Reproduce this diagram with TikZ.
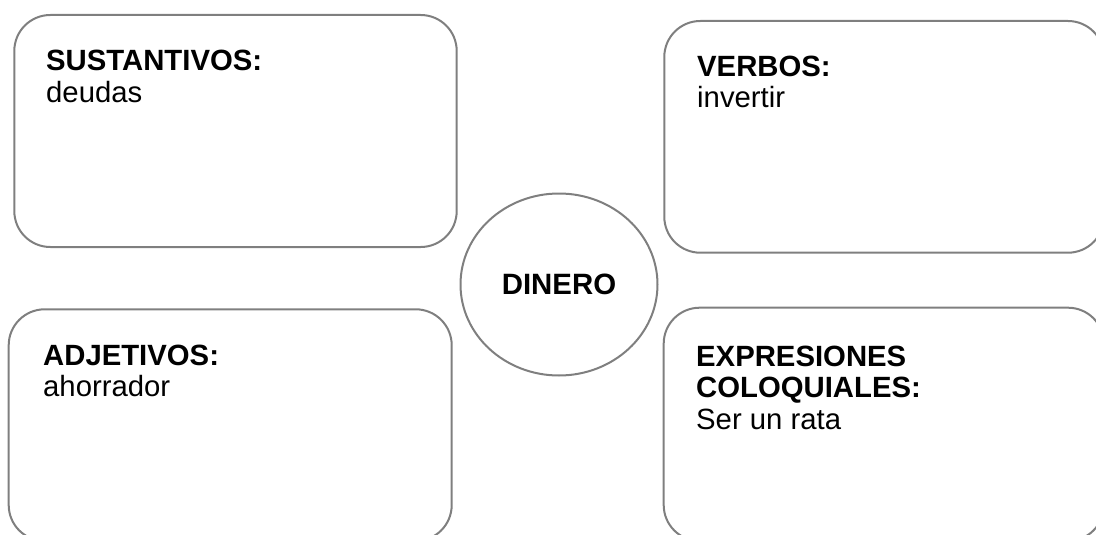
\documentclass[tikz,border=0pt]{standalone}
\usepackage{fontspec}
\setmainfont{Liberation Sans}
\usetikzlibrary{shapes.geometric}
\definecolor{edgegray}{HTML}{7F7F7F}
\tikzset{
  catbox/.style={draw=edgegray, line width=2pt, rectangle, rounded corners=36pt,
    inner sep=0pt, anchor=north west},
  hub/.style={draw=edgegray, line width=2pt, ellipse, inner sep=0pt,
    minimum width=197pt, minimum height=182pt,
    font=\fontsize{29.4}{32}\selectfont\bfseries},
  label/.style={anchor=north west, inner sep=0pt, align=left,
    font=\fontsize{29.3}{31.5}\selectfont}
}
\begin{document}
\begin{tikzpicture}[x=1pt, y=-1pt]
\useasboundingbox (0,0) rectangle (1096,535);
\clip (0,0) rectangle (1096,535);
% boxes
\node[catbox, minimum width=442.4pt, minimum height=232pt] (sus) at (13.3,14) {};
\node[catbox, minimum width=439.7pt, minimum height=231.7pt] (ver) at (663.3,20) {};
\node[catbox, minimum width=443pt, minimum height=231.7pt] (adj) at (7.7,308.3) {};
\node[catbox, minimum width=440.3pt, minimum height=233.3pt] (exp) at (662.7,306.7) {};
% centre
\node[hub] (din) at (559,284.5) {DINERO};
% texts
\node[label] (sust) at (46,50.2) {\textbf{SUSTANTIVOS:}\\deudas};
\node[label] (verbt) at (697,55.5) {\textbf{VERBOS:}\\invertir};
\node[label] (adjt) at (43,344.5) {\textbf{ADJETIVOS:}\\ahorrador};
\node[label] (expt) at (696,345.5) {\textbf{EXPRESIONES}\\\textbf{COLOQUIALES:}\\Ser un rata};
\end{tikzpicture}
\end{document}
